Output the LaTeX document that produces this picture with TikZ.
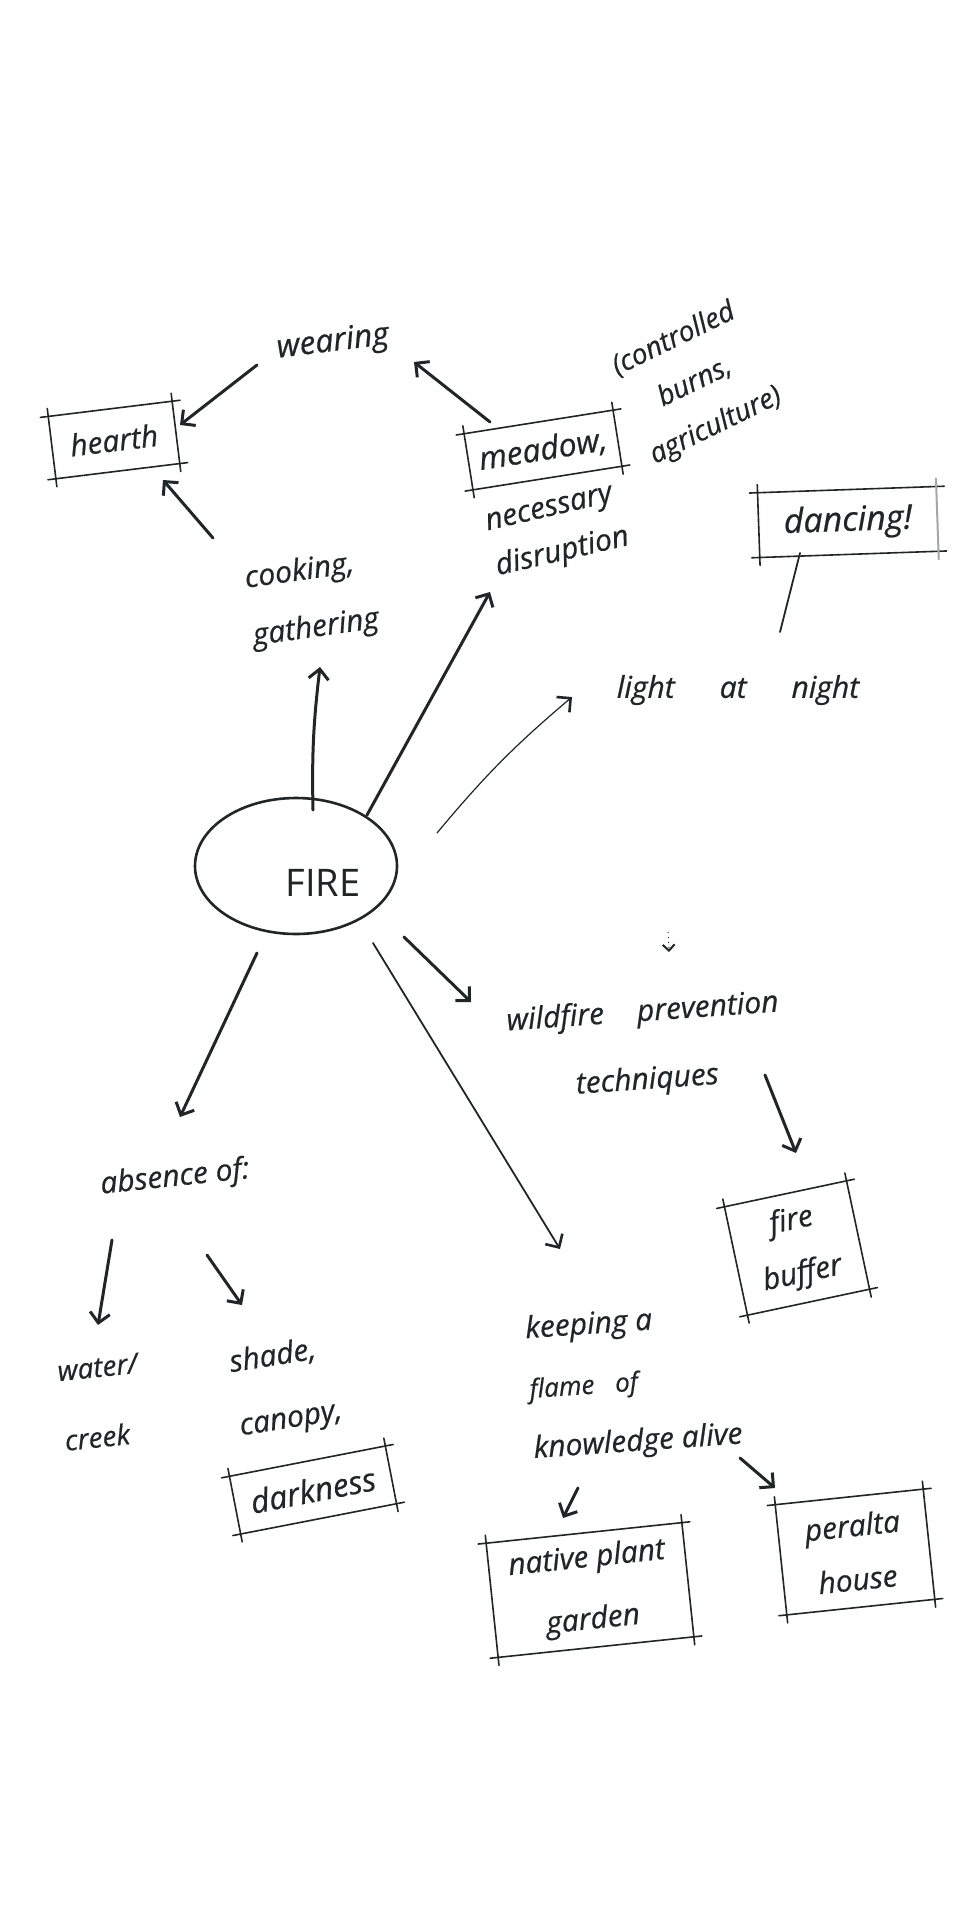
\documentclass[tikz,border=0pt]{standalone}
\usepackage{fontspec}
\setmainfont{Open Sans}
\usetikzlibrary{shapes.geometric,arrows.meta,calc}
\definecolor{ink}{RGB}{32,38,38}
\newcommand\handfont[2]{\itshape\fontsize{#1}{#2}\selectfont\addfontfeatures{FakeBold=0.6}}
\newcommand\sketchbox[1]{%
  \draw[boxedge] (#1.north west) -- (#1.north east);
  \draw[boxedge] (#1.north east) -- (#1.south east);
  \draw[boxedge] (#1.south east) -- (#1.south west);
  \draw[boxedge] (#1.south west) -- (#1.north west);}
\begin{document}
\begin{tikzpicture}[x=0.5pt,y=-0.5pt,
  hand/.style={text=ink, inner sep=0pt},
  arr/.style={draw=ink, line width=1.5pt, line cap=round,
    -{Straight Barb[length=5pt,width=10pt,line width=1.5pt]}},
  thinarr/.style={draw=ink, line width=0.6pt, line cap=round,
    -{Straight Barb[length=5pt,width=10pt,line width=1.3pt]}},
  plainline/.style={draw=ink, line width=0.9pt, line cap=round},
  boxedge/.style={draw=ink, line width=0.8pt, line cap=round, shorten <=-4pt, shorten >=-4pt}
]
\useasboundingbox[fill=white] (0,0) rectangle (960,1920);

% top cluster
\node[hand, rotate=7, font=\handfont{16}{18}] (wearing) at (333,343) {wearing};
\node[hand, rotate=7, minimum width=62pt, minimum height=31pt, font=\handfont{15}{18}] (hearth) at (114,440) {hearth};
\node[hand, rotate=8, align=left, font=\handfont{15}{29}] (cook) at (312,600) {cooking,\\gathering};
\node[hand, rotate=9, minimum width=75pt, minimum height=28pt, font=\handfont{16}{18}] (meadow) at (543,450) {meadow,};
\node[hand, rotate=26, align=center, font=\handfont{14}{24}] (ctrl) at (695,383) {(controlled\\burns,\\agriculture)};
\node[hand, rotate=13, align=left, font=\handfont{15}{23}] (necessary) at (558,533) {necessary\\disruption};
\node[hand, rotate=2, minimum width=89pt, minimum height=32pt, font=\handfont{17}{20}] (dancing) at (848,522) {dancing!};
\node[hand, font=\handfont{15}{18}] (light) at (738,690) {light\hspace{1.5em}at\hspace{1.5em}night};

% centre
\node[ellipse, draw=ink, line width=1.3pt, minimum width=101pt, minimum height=68pt, inner sep=0pt] (fire) at (296,866) {};
\node[text=ink, font=\fontsize{19}{22}\selectfont, inner sep=0pt] (firelabel) at (323,883) {FIRE};

% lower right
\node[hand, rotate=4, align=center, font=\handfont{15}{34}] (wild) at (645,1047) {wildfire\hspace{1.1em}prevention\\techniques};
\node[hand, rotate=12, align=center, minimum width=62pt, minimum height=55pt, font=\handfont{15}{27}] (buffer) at (797,1248) {fire\\buffer};
\node[hand, rotate=4, align=left, font=\handfont{15}{30}] (keep) at (634,1383) {keeping a\\{\fontsize{13}{13}\selectfont flame\hspace{0.8em}of}\\knowledge alive};
\node[hand, rotate=6, align=center, minimum width=98pt, minimum height=57pt, font=\handfont{15}{31}] (native) at (590,1590) {native plant\\garden};
\node[hand, rotate=6, align=center, minimum width=74pt, minimum height=55pt, font=\handfont{15}{27}] (peralta) at (855,1552) {peralta\\house};

% lower left
\node[hand, rotate=6, font=\handfont{15}{18}] (absence) at (175,1178) {absence of:};
\node[hand, rotate=6, align=left, font=\handfont{14}{35}] (water) at (101,1402) {water/\\creek};
\node[hand, rotate=9, align=left, font=\handfont{15}{32}] (shade) at (286,1388) {shade,\\canopy,};
\node[hand, rotate=11, minimum width=79pt, minimum height=29pt, font=\handfont{16}{18}] (darkness) at (313,1490) {darkness};

% boxes
\sketchbox{hearth}
\sketchbox{meadow}
\draw[boxedge] (dancing.north west) -- (dancing.north east);
\draw[boxedge] (dancing.south east) -- (dancing.south west);
\draw[boxedge] (dancing.south west) -- (dancing.north west);
\draw[boxedge, draw=gray!70, line width=1pt] (dancing.north east) -- (dancing.south east);
\sketchbox{buffer}
\sketchbox{native}
\sketchbox{peralta}
\sketchbox{darkness}

% connectors
\draw[arr] ($(wearing)+(-76,22)$) -- ($(hearth)+(66,-15)$);
\draw[arr] ($(cook)+(-99,-62)$) -- ($(hearth)+(49,40)$);
\draw[arr] ($(meadow)+(-53,-28)$) -- ($(wearing)+(81,19)$);
\draw[arr] ($(fire)+(17,-56)$) to[bend left=4] ($(cook)+(8,67)$);
\draw[arr] ($(fire)+(71,-51)$) -- ($(necessary)+(-68,59)$);
\draw[thinarr] ($(fire)+(141,-33)$) to[bend left=5] ($(light)+(-166,7)$);
\draw[plainline] ($(dancing)+(-48,31)$) -- ($(light)+(42,-58)$);
\draw[arr] ($(fire)+(108,71)$) -- ($(wild)+(-174,-45)$);
\draw[thinarr, line width=0.9pt] ($(fire)+(77,77)$) -- ($(keep)+(-74,-134)$);
\draw[arr] ($(fire)+(-39,87)$) -- ($(absence)+(5,-61)$);
\draw[arr] ($(absence)+(-63,62)$) -- ($(water)+(-3,-77)$);
\draw[arr] ($(absence)+(32,77)$) -- ($(shade)+(-44,-83)$);
\draw[arr] ($(wild)+(120,28)$) -- ($(buffer)+(-1,-95)$);
\draw[arr] ($(keep)+(-56,105)$) -- ($(native)+(-27,-72)$);
\draw[arr] ($(keep)+(106,75)$) -- ($(peralta)+(-80,-64)$);
\coordinate (stray) at (668,932);
\draw[draw=ink, line width=0.5pt, dotted, -{Straight Barb[length=3pt,width=6pt,line width=1pt]}] (stray) -- ($(wild)+(24,-95)$);
\end{tikzpicture}
\end{document}
